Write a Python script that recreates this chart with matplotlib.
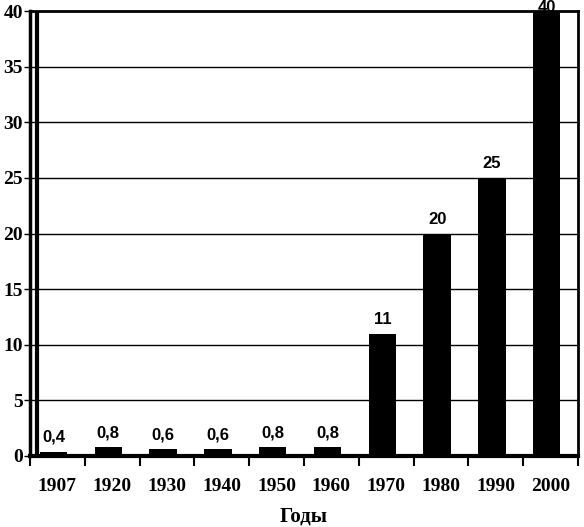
import matplotlib.pyplot as plt
import numpy as np

years = ["1907", "1920", "1930", "1940", "1950", "1960", "1970", "1980", "1990", "2000"]
values = [0.4, 0.8, 0.6, 0.6, 0.8, 0.8, 11, 20, 25, 40]
value_labels = ["0,4", "0,8", "0,6", "0,6", "0,8", "0,8", "11", "20", "25", "40"]

fig = plt.figure(figsize=(5.84, 5.27), dpi=100)
ax = fig.add_axes([30 / 584, 71 / 527, 548 / 584, 445 / 527])

x = np.arange(len(years))
ax.bar(x - 0.07, values, width=0.5, color="black", zorder=3)

# horizontal grid
for yv in range(5, 40, 5):
    ax.axhline(yv, color="black", lw=1, zorder=1)

for xi, v, lab in zip(x, values, value_labels):
    if v >= 40:
        # label sits on the top border like in the source
        ax.text(xi - 0.07, 40.95, lab, ha="center", va="top", fontsize=12,
                fontweight="bold", family="Liberation Sans", zorder=4, clip_on=False)
    else:
        ax.text(xi - 0.07, v + 0.6, lab, ha="center", va="bottom",
                fontsize=12, fontweight="bold", family="Liberation Sans", zorder=4)

ax.set_xlim(-0.5, len(years) - 0.5)
ax.set_ylim(0, 40)
ax.set_yticks(range(0, 41, 5))
ax.set_yticklabels([str(v) for v in range(0, 41, 5)], fontsize=14,
                   fontweight="bold", family="Liberation Serif")
ax.set_xticks(np.arange(-0.5, len(years), 1.0))
ax.set_xticklabels([])
ax.tick_params(axis="x", direction="out", length=7, width=1.5)
ax.tick_params(axis="y", direction="out", length=4, width=1, pad=1)
for xi, yr in zip(x, years):
    ax.text(xi, -2.0, yr, ha="center", va="top", fontsize=14,
            fontweight="bold", family="Liberation Serif")

ax.set_xlabel("Годы", fontsize=15, fontweight="bold", family="Liberation Serif", labelpad=26)

ax.spines["left"].set_linewidth(2.5)
ax.spines["bottom"].set_linewidth(3)
ax.spines["top"].set_linewidth(2)
ax.spines["right"].set_linewidth(2)
# 3D back wall edge
ax.axvline(-0.37, color="black", lw=3, zorder=2)

plt.savefig("out.png", dpi=100)
